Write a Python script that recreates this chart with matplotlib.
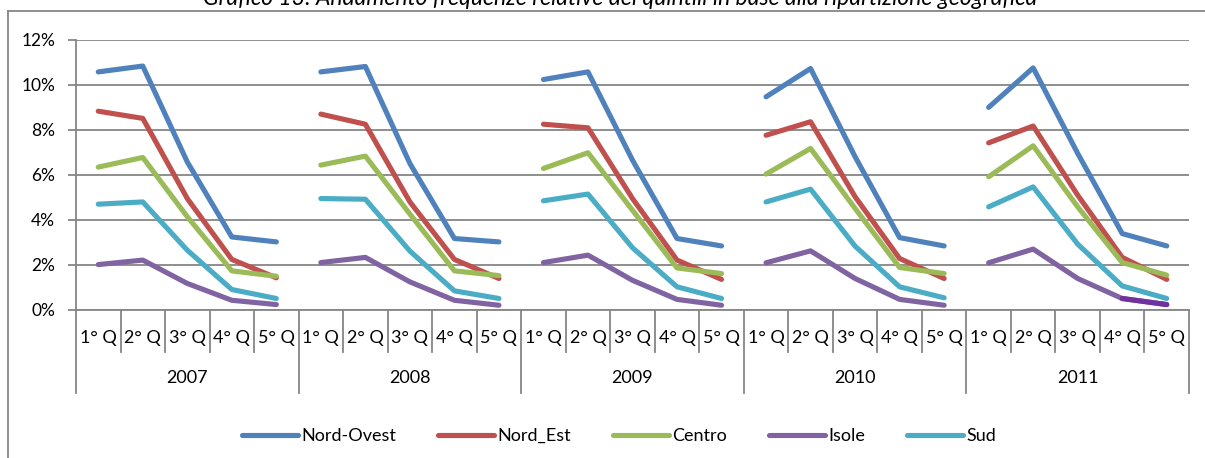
import matplotlib
matplotlib.use("Agg")
import matplotlib.pyplot as plt
from matplotlib.transforms import blended_transform_factory
from matplotlib.lines import Line2D

# --- data (percent), 5 quintiles for each year -------------------------------------
YEARS = ["2007", "2008", "2009", "2010", "2011"]
QUINTILI = ["1° Q", "2° Q", "3° Q", "4° Q", "5° Q"]
NORD_OVEST = [10.58, 10.84, 6.57, 3.23, 3.01, 10.58, 10.82, 6.50, 3.16, 3.01,
              10.24, 10.58, 6.65, 3.16, 2.83, 9.47, 10.73, 6.80, 3.20, 2.83,
              9.00, 10.76, 6.95, 3.38, 2.83]
NORD_EST = [8.83, 8.51, 4.94, 2.23, 1.41, 8.70, 8.25, 4.79, 2.23, 1.38,
            8.25, 8.09, 4.94, 2.20, 1.34, 7.76, 8.36, 5.02, 2.27, 1.38,
            7.42, 8.17, 5.09, 2.32, 1.34]
CENTRO = [6.34, 6.77, 4.13, 1.72, 1.48, 6.43, 6.83, 4.25, 1.72, 1.51,
          6.28, 6.98, 4.42, 1.85, 1.60, 6.03, 7.17, 4.50, 1.87, 1.60,
          5.91, 7.29, 4.57, 2.09, 1.53]
ISOLE = [2.00, 2.20, 1.16, 0.41, 0.22, 2.09, 2.32, 1.23, 0.41, 0.19,
         2.09, 2.42, 1.30, 0.45, 0.19, 2.08, 2.61, 1.38, 0.45, 0.19,
         2.08, 2.69, 1.38, 0.49, 0.22]
SUD = [4.69, 4.79, 2.64, 0.89, 0.49, 4.94, 4.91, 2.60, 0.83, 0.49,
       4.84, 5.14, 2.75, 1.01, 0.49, 4.79, 5.36, 2.82, 1.01, 0.52,
       4.57, 5.46, 2.91, 1.05, 0.49]
SERIES = [("Nord-Ovest", NORD_OVEST, "#4F81BD"),
          ("Nord_Est", NORD_EST, "#C0504D"),
          ("Centro", CENTRO, "#9BBB59"),
          ("Isole", ISOLE, "#8064A2"),
          ("Sud", SUD, "#4BACC6")]

GRID = "#868686"
W, H = 1205, 458
plt.rcParams["font.family"] = ["Lato", "DejaVu Sans"]

fig = plt.figure(figsize=(W / 100, H / 100), dpi=100)
ax = fig.add_axes([76 / W, 1 - 309.5 / H, (1189 - 76) / W, (309.5 - 40) / H])

nq = len(QUINTILI)
for name, vals, col in SERIES:
    for g in range(len(YEARS)):
        xs = list(range(g * nq, g * nq + nq))
        ax.plot(xs, vals[g * nq:(g + 1) * nq], color=col, lw=3.7,
                solid_capstyle="round", solid_joinstyle="round")
# last Isole point of 2011 is formatted darker in the original
n = len(ISOLE)
ax.plot([n - 2, n - 1], ISOLE[-2:], color="#7030A0", lw=3.7, solid_capstyle="round")

ax.set_xlim(-0.5, n - 0.5)
ax.set_ylim(0, 12)
ax.set_yticks(range(0, 13, 2))
ax.set_yticklabels(["%d%%" % v for v in range(0, 13, 2)], fontsize=12.5)
ax.yaxis.grid(True, color=GRID, lw=1.3)
ax.set_axisbelow(True)
ax.set_xticks([])
for s in ["top", "right"]:
    ax.spines[s].set_visible(False)
for s in ["left", "bottom"]:
    ax.spines[s].set_color(GRID)
    ax.spines[s].set_linewidth(1.3)
ax.tick_params(axis="y", length=6, color=GRID, width=1.3, pad=9)

# multi-level category axis
tr = blended_transform_factory(ax.transData, fig.transFigure)
fy = lambda py: 1 - py / H
for i in range(n + 1):
    bottom = 393 if i % nq == 0 else 352
    ax.add_line(Line2D([i - 0.5, i - 0.5], [fy(309.5), fy(bottom)], transform=tr,
                       color=GRID, lw=1.3, clip_on=False))
for i in range(n):
    ax.text(i, fy(338), QUINTILI[i % nq], transform=tr, ha="center", va="center",
            fontsize=13)
for g, y in enumerate(YEARS):
    ax.text(g * nq + 2, fy(378), y, transform=tr, ha="center", va="center", fontsize=13)

# legend
handles = [Line2D([], [], color=c, lw=3.7, solid_capstyle="round") for _, _, c in SERIES]
fig.legend(handles, [s[0] for s in SERIES], loc="center", bbox_to_anchor=(619 / W, fy(436)),
           ncol=5, frameon=False, fontsize=13, handlelength=3.1, handletextpad=0.2,
           columnspacing=2.3)

# chart frame (only top and left edges are visible in the crop)
fig.add_artist(Line2D([8 / W, 1], [fy(11), fy(11)], color=GRID, lw=1.3))
fig.add_artist(Line2D([8 / W, 8 / W], [fy(11), 0], color=GRID, lw=1.3))

fig.text(620 / W, fy(5), "Grafico 13: Andamento frequenze relative dei quintili in base alla "
         "ripartizione geografica", ha="center", va="baseline", fontsize=16.5, style="italic")

fig.savefig("out.png", dpi=100)
